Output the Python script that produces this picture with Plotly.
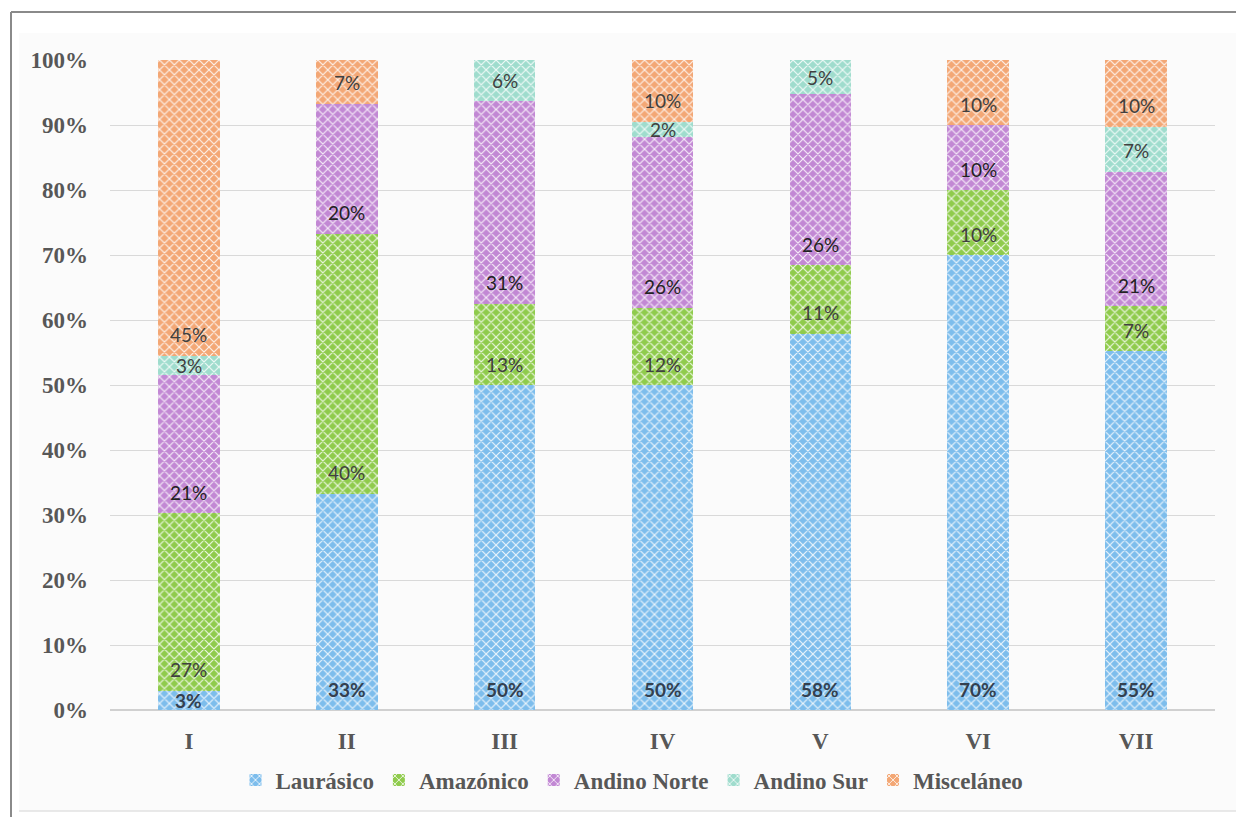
import plotly.graph_objects as go

categories = ["I", "II", "III", "IV", "V", "VI", "VII"]
series_names = ["Laurásico", "Amazónico", "Andino Norte", "Andino Sur", "Misceláneo"]

laurasico = [3.0, 33.3, 50.0, 50.0, 57.9, 70.0, 55.2]
amazonico = [27.3, 40.0, 12.5, 11.9, 10.5, 10.0, 6.9]
andino_norte = [21.2, 20.0, 31.25, 26.2, 26.3, 10.0, 20.7]
andino_sur = [3.0, 0.0, 6.25, 2.4, 5.3, 0.0, 6.9]
miscelaneo = [45.5, 6.7, 0.0, 9.5, 0.0, 10.0, 10.3]

labels = {
    "Laurásico": ["3%", "33%", "50%", "50%", "58%", "70%", "55%"],
    "Amazónico": ["27%", "40%", "13%", "12%", "11%", "10%", "7%"],
    "Andino Norte": ["21%", "20%", "31%", "26%", "26%", "10%", "21%"],
    "Andino Sur": ["3%", "", "6%", "2%", "5%", "", "7%"],
    "Misceláneo": ["45%", "7%", "", "10%", "", "10%", "10%"],
}

values = [laurasico, amazonico, andino_norte, andino_sur, miscelaneo]
colors = ["#7dbdec", "#8fcb4c", "#c288d4", "#9fdccd", "#f3a775"]
label_colors = ["#34404f", "#404040", "#222222", "#404040", "#404040"]
label_bold = [True, False, False, False, False]

W, H = 1236, 817
ML, MR, MT, MB = 110, 21, 60, 107
PW, PH = W - ML - MR, H - MT - MB


def px2x(px):
    return (px - ML) / PW


def px2y(py):
    return (H - MB - py) / PH


fig = go.Figure()
annotations = []
base = [0.0] * len(categories)
for name, vals, col, lcol, bold in zip(series_names, values, colors, label_colors, label_bold):
    fig.add_trace(go.Bar(
        name=name, x=categories, y=vals,
        marker=dict(color=col, line=dict(width=0),
                    pattern=dict(shape="x", fgcolor="white", bgcolor=col,
                                 size=7, solidity=0.3, fgopacity=0.85)),
        width=0.39,
    ))
    for i, (c, v, lab) in enumerate(zip(categories, vals, labels[name])):
        if lab:
            seg_px = v * PH / 100
            if seg_px < 42:
                y, ys = base[i] + v / 2, 0
            else:
                y, ys = base[i], 21
            annotations.append(dict(
                x=c, y=y, yshift=ys, text=f"<b>{lab}</b>" if bold else lab,
                showarrow=False, xref="x", yref="y",
                font=dict(family="Lato, Carlito, sans-serif", size=19, color=lcol),
            ))
        base[i] += v

serif = "Liberation Serif, Times New Roman, serif"
axis_font = dict(family=serif, size=23, color="#575757", weight="bold")

shapes = [
    dict(type="rect", xref="paper", yref="paper", x0=px2x(19), x1=px2x(1236),
         y0=px2y(811), y1=px2y(33), fillcolor="#fbfbfb", line=dict(width=0), layer="below"),
    dict(type="line", xref="paper", yref="paper", x0=px2x(19), x1=px2x(1236),
         y0=px2y(811), y1=px2y(811), line=dict(color="#e2e2e2", width=1.5), layer="below"),
    dict(type="line", xref="paper", yref="paper", x0=px2x(11), x1=px2x(11),
         y0=px2y(817), y1=px2y(12), line=dict(color="#8a8a8a", width=2), layer="below"),
    dict(type="line", xref="paper", yref="paper", x0=px2x(11), x1=px2x(1236),
         y0=px2y(12), y1=px2y(12), line=dict(color="#8a8a8a", width=2), layer="below"),
]

fig.update_layout(
    barmode="stack",
    width=W, height=H,
    margin=dict(l=ML, r=MR, t=MT, b=MB),
    paper_bgcolor="white",
    plot_bgcolor="rgba(0,0,0,0)",
    bargap=0.61,
    showlegend=True,
    legend=dict(orientation="h", x=px2x(632), xanchor="center", y=px2y(780), yanchor="middle",
                font=dict(family=serif, size=23, color="#575757", weight="bold"),
                bgcolor="rgba(0,0,0,0)", itemwidth=30, traceorder="normal"),
    annotations=annotations,
    shapes=shapes,
    xaxis=dict(tickfont=axis_font, showgrid=False, showline=False, ticks="",
               ticklabelstandoff=15),
    yaxis=dict(range=[0, 100], dtick=10, ticksuffix="%", tickfont=axis_font,
               gridcolor="#d9d9d9", gridwidth=1,
               zeroline=True, zerolinecolor="#d0d0d0", zerolinewidth=1.5,
               showline=False, ticks="", ticklabelstandoff=21),
)

fig.write_html("out.html")
